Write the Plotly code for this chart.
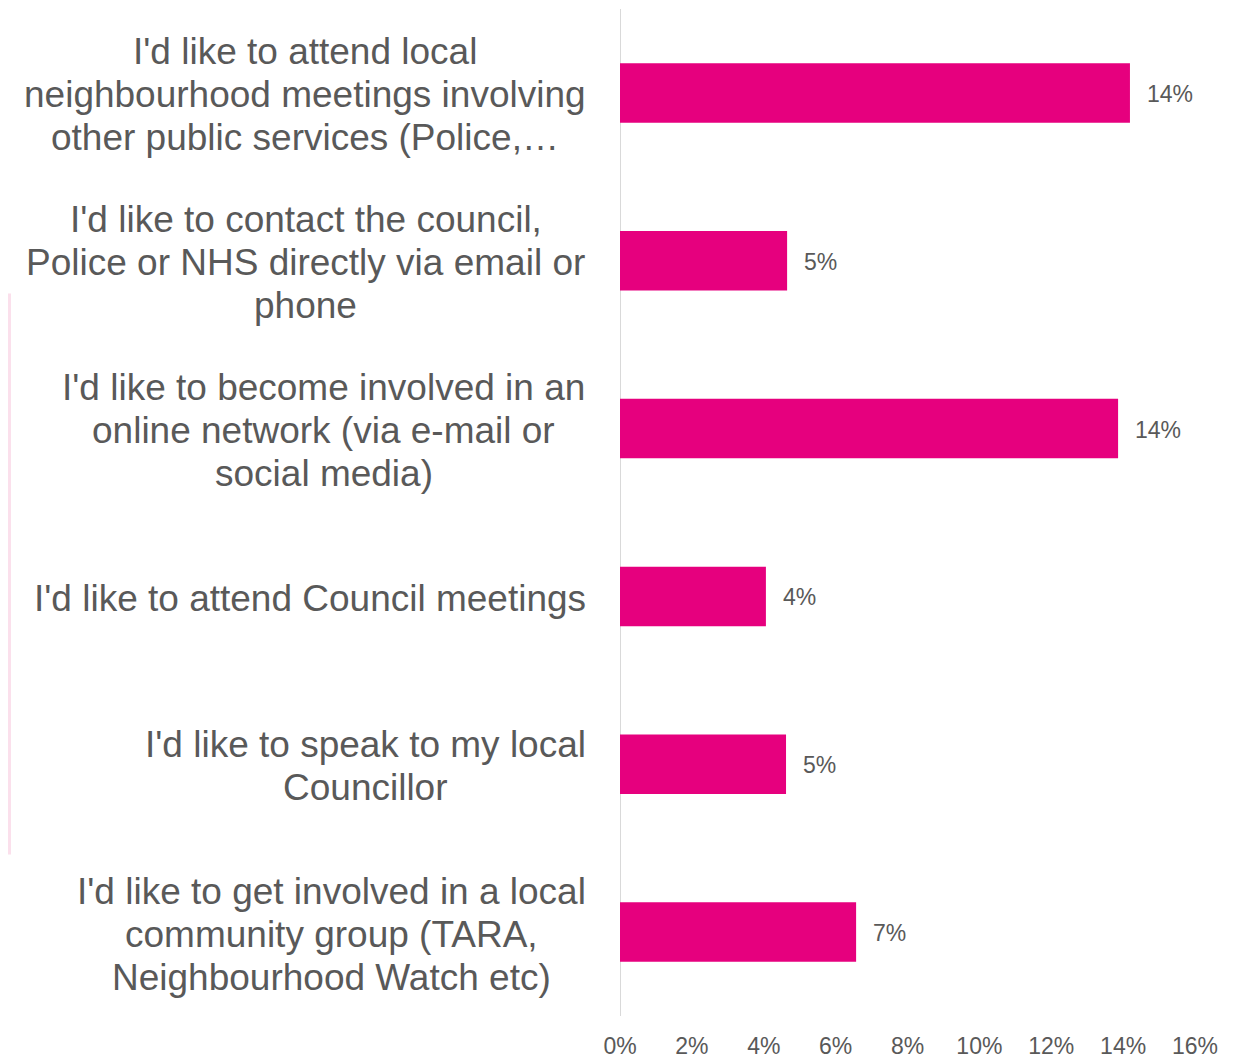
import plotly.graph_objects as go

categories = [
    "I'd like to attend local<br>neighbourhood meetings involving<br>other public services (Police,…",
    "I'd like to contact the council,<br>Police or NHS directly via email or<br>phone",
    "I'd like to become involved in an<br>online network (via e-mail or<br>social media)",
    "I'd like to attend Council meetings",
    "I'd like to speak to my local<br>Councillor",
    "I'd like to get involved in a local<br>community group (TARA,<br>Neighbourhood Watch etc)",
]
values = [0.1419, 0.0465, 0.1386, 0.0406, 0.0462, 0.0657]
tick_vals = [0, 0.02, 0.04, 0.06, 0.08, 0.10, 0.12, 0.14, 0.16]
tick_text = ["0%", "2%", "4%", "6%", "8%", "10%", "12%", "14%", "16%"]

# layout: horizontal centre (page px) of each label block, measured on the reference
label_centers = [304.5, 305.5, 323.5, 309.5, 365, 331]
LINE_H = 43

OFF = 8  # page body margin
W, H = 1245 - OFF, 1060 - OFF
L, R, T, B = 620 - OFF, 50, 8.5 - OFF, 37.5
pw = W - L - R
ph = H - T - B

gray = "#595959"
font = "Arial"

fig = go.Figure(go.Bar(
    x=values, y=list(range(len(categories))), orientation="h",
    marker=dict(color="#e6007e", line=dict(width=0)),
    hoverinfo="skip",
))

annotations = []
for i, (c, v) in enumerate(zip(categories, values)):
    lines = c.split("<br>")
    n = len(lines)
    for j, ln in enumerate(lines):
        annotations.append(dict(
            x=(label_centers[i] - 620) / pw, xref="paper", y=i, yref="y",
            yshift=((n - 1) / 2 - j) * LINE_H - 2,
            text=ln, showarrow=False, xanchor="center", yanchor="middle",
            font=dict(family=font, size=37, color=gray),
        ))
    annotations.append(dict(
        x=v, xref="x", y=i, yref="y", text=f"{round(v*100)}%",
        showarrow=False, xanchor="left", yanchor="middle", xshift=15, yshift=-1,
        font=dict(family=font, size=23, color=gray),
    ))

fig.update_layout(
    width=W, height=H,
    margin=dict(l=L, r=R, t=T, b=B, pad=0),
    paper_bgcolor="white", plot_bgcolor="white",
    bargap=0.645,
    showlegend=False,
    xaxis=dict(range=[0, 0.16], tickvals=tick_vals, ticktext=tick_text,
               showgrid=False, zeroline=False, showline=False,
               ticks="", ticklabelstandoff=14,
               tickfont=dict(family=font, size=23, color=gray)),
    yaxis=dict(range=[len(categories) - 0.5, -0.5], showticklabels=False,
               showgrid=False, zeroline=False, showline=False, ticks=""),
    annotations=annotations,
    shapes=[
        dict(type="line", xref="x", yref="paper", x0=0, x1=0, y0=0, y1=1.0,
             line=dict(color="#d9d9d9", width=2), layer="below"),
        dict(type="rect", xref="paper", yref="paper",
             x0=-L / pw, x1=-(L - 3) / pw,
             y0=(H - B - (860 - OFF)) / ph, y1=(H - B - (295 - OFF)) / ph,
             fillcolor="#fbe0ec", line=dict(width=0), layer="below"),
    ],
)

fig.write_html("out.html")
